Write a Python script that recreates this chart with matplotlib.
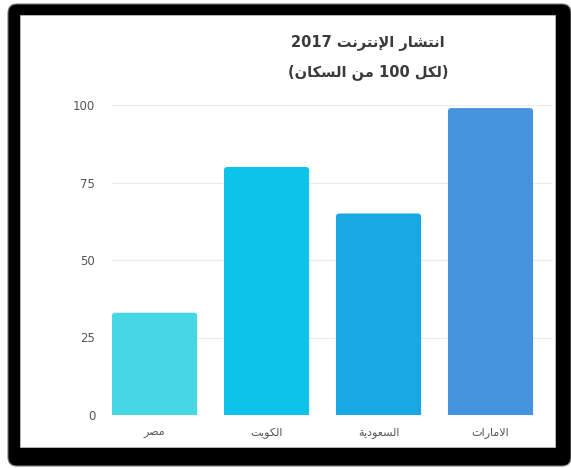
import re
import matplotlib
matplotlib.use("Agg")
import matplotlib.pyplot as plt
from matplotlib.patches import FancyBboxPatch, Rectangle

# data
countries = ["مصر", "الكويت", "السعودية", "الامارات"]
values = [33, 80, 65, 99]
colors = ["#46D7E5", "#0CC3E8", "#18A8E3", "#4592DD"]
yticks = [0, 25, 50, 75, 100]
title_1 = "انتشار الإنترنت 2017"
title_2 = "(لكل 100 من السكان)"

# matplotlib has no arabic shaping, so do a small one by hand
FORMS = {
    'ا': ('\uFE8D', '\uFE8E'),
    'إ': ('\uFE87', '\uFE88'),
    'د': ('\uFEA9', '\uFEAA'),
    'ر': ('\uFEAD', '\uFEAE'),
    'و': ('\uFEED', '\uFEEE'),
    'ة': ('\uFE93', '\uFE94'),
    'ت': ('\uFE95', '\uFE96', '\uFE97', '\uFE98'),
    'ن': ('\uFEE5', '\uFEE6', '\uFEE7', '\uFEE8'),
    'ش': ('\uFEB5', '\uFEB6', '\uFEB7', '\uFEB8'),
    'ل': ('\uFEDD', '\uFEDE', '\uFEDF', '\uFEE0'),
    'ك': ('\uFED9', '\uFEDA', '\uFEDB', '\uFEDC'),
    'م': ('\uFEE1', '\uFEE2', '\uFEE3', '\uFEE4'),
    'س': ('\uFEB1', '\uFEB2', '\uFEB3', '\uFEB4'),
    'ص': ('\uFEB9', '\uFEBA', '\uFEBB', '\uFEBC'),
    'ي': ('\uFEF1', '\uFEF2', '\uFEF3', '\uFEF4'),
    'ع': ('\uFEC9', '\uFECA', '\uFECB', '\uFECC'),
}
LAM_ALEF = {'ا': ('\uFEFB', '\uFEFC'), 'إ': ('\uFEF9', '\uFEFA')}


def shape(text):
    units = []
    i = 0
    while i < len(text):
        c = text[i]
        if c == 'ل' and i + 1 < len(text) and text[i + 1] in LAM_ALEF:
            units.append(LAM_ALEF[text[i + 1]])
            i += 2
        else:
            units.append(FORMS.get(c, c))
            i += 1
    out = []
    for k, u in enumerate(units):
        if isinstance(u, str):
            out.append(u)
            continue
        prev = units[k - 1] if k > 0 else None
        nxt = units[k + 1] if k + 1 < len(units) else None
        join_prev = isinstance(prev, tuple) and len(prev) == 4
        join_next = len(u) == 4 and isinstance(nxt, tuple)
        if join_prev and join_next:
            out.append(u[3])
        elif join_prev:
            out.append(u[1])
        elif join_next:
            out.append(u[2])
        else:
            out.append(u[0])
    return "".join(out)


def visual(text):
    s = shape(text)[::-1]
    s = re.sub(r'\d+', lambda m: m.group(0)[::-1], s)
    return s.translate(str.maketrans('()', ')('))


plt.rcParams['font.family'] = ['DejaVu Sans']

W, H = 571, 468
fig = plt.figure(figsize=(W / 100, H / 100), dpi=100)
fig.patch.set_facecolor("white")

# black frame around the chart
bg = fig.add_axes([0, 0, 1, 1])
bg.set_xlim(0, W)
bg.set_ylim(H, 0)
bg.axis("off")
bg.add_patch(FancyBboxPatch((8, 4), W - 8, 462, boxstyle="round,pad=0,rounding_size=9",
                            facecolor="black", edgecolor="#777777", linewidth=0.8))
bg.add_patch(Rectangle((20, 15), 535, 432, facecolor="white", edgecolor="#cccccc", linewidth=0.5))

# chart area in pixels: x 112..553, y 105..415
ax = fig.add_axes([112 / W, 1 - 415 / H, 441 / W, 310 / H])
ax.patch.set_alpha(0)
x = range(len(countries))
bars = ax.bar(x, values, width=0.76, color=colors, zorder=2)
ax.set_xlim(-0.38, 3.558)
ax.set_ylim(0, 100)

# swap the plain bars for ones with slightly rounded tops
for b in bars:
    rb = FancyBboxPatch((b.get_x(), -5), b.get_width(), b.get_height() + 5,
                        boxstyle="round,pad=0,rounding_size=0.03", mutation_aspect=36,
                        facecolor=b.get_facecolor(), edgecolor="none", zorder=2)
    ax.add_patch(rb)
    b.set_visible(False)

ax.set_yticks(yticks)
ax.set_yticklabels([str(t) for t in yticks], fontsize=8.5, color="#555555")
ax.set_xticks(list(x))
ax.set_xticklabels([visual(c) for c in countries], fontsize=8, color="#555555")
ax.tick_params(axis="both", length=0)
ax.tick_params(axis="y", pad=12)
ax.tick_params(axis="x", pad=9)
ax.grid(axis="y", color="#ececec", linewidth=0.8, zorder=0)
for s in ax.spines.values():
    s.set_visible(False)

fig.text(368 / W, 1 - 43 / H, visual(title_1), ha="center", va="center",
         fontsize=10.5, fontweight="bold", color="#3a3a3a")
fig.text(368 / W, 1 - 72 / H, visual(title_2), ha="center", va="center",
         fontsize=10.5, fontweight="bold", color="#3a3a3a")

fig.savefig("out.png", dpi=100)
